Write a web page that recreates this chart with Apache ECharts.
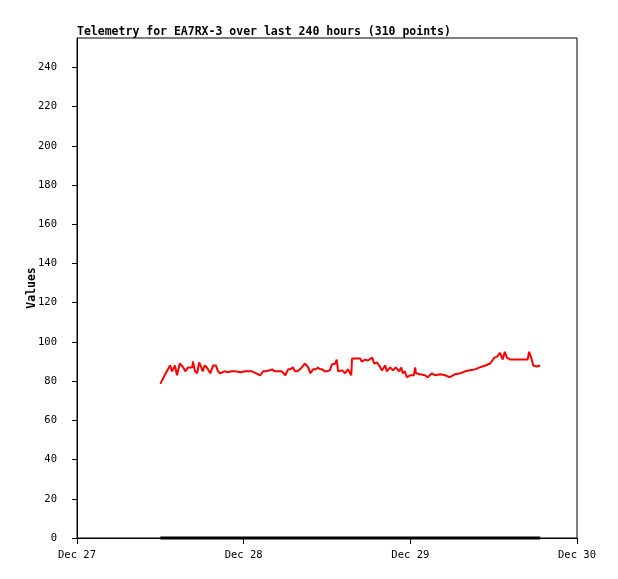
<!DOCTYPE html>
<html>
<head>
<meta charset="utf-8">
<script src="https://cdn.jsdelivr.net/npm/echarts@6/dist/echarts.min.js"></script>
<style>
  html, body { margin: 0; padding: 0; background: #fff; }
  #chart { width: 618px; height: 579px; }
</style>
</head>
<body>
<div id="chart"></div>
<script>
// hours since Dec 27 00:00
let hours = [
  12.0, 12.7, 13.4, 13.7, 14.1, 14.4, 14.8, 15.3, 15.6, 16.0, 16.6, 16.7, 17.0, 17.3, 17.6, 17.9,
  18.1, 18.4, 18.7, 19.2, 19.6, 20.0, 20.3, 20.6, 21.2, 21.7, 22.3, 22.8, 23.5, 24.2, 24.8, 25.2,
  25.8, 26.4, 26.8, 27.1, 27.8, 28.1, 28.5, 28.9, 29.5, 30.0, 30.4, 30.7, 31.1, 31.4, 31.7, 32.1,
  32.5, 32.8, 33.3, 33.6, 34.0, 34.4, 34.7, 35.0, 35.3, 35.7, 36.0, 36.4, 36.7, 37.2, 37.4, 37.6,
  38.2, 38.6, 39.0, 39.5, 39.6, 40.2, 40.8, 41.0, 41.5, 41.9, 42.5, 42.8, 43.2, 43.6, 43.9, 44.4,
  44.6, 45.1, 45.5, 45.9, 46.4, 46.7, 46.9, 47.2, 47.5, 48.0, 48.5, 48.7, 48.8, 49.4, 50.1, 50.5,
  51.1, 51.6, 52.3, 53.0, 53.7, 54.4, 55.2, 55.9, 56.6, 57.3, 58.0, 58.8, 59.5, 60.1, 60.5, 60.9,
  61.3, 61.6, 61.9, 62.4, 63.1, 63.8, 64.5, 64.9, 65.1, 65.4, 65.7, 66.2, 66.7
]
let values = [
  78.6, 83.5, 88.0, 85.0, 88.0, 83.0, 89.0, 87.0, 85.0, 87.0, 87.0, 90.0, 85.0, 84.0, 89.5, 87.0,
  85.0, 88.0, 87.0, 84.0, 88.0, 88.0, 85.0, 84.0, 85.0, 84.5, 85.0, 85.0, 84.5, 85.0, 85.0, 85.0,
  84.0, 83.0, 85.0, 85.0, 85.5, 86.0, 85.0, 85.0, 85.0, 83.0, 86.0, 86.0, 87.0, 85.0, 85.0, 86.0,
  87.5, 89.0, 87.0, 84.0, 86.0, 86.0, 87.0, 86.0, 86.0, 85.0, 85.0, 85.5, 88.5, 89.0, 91.0, 85.0,
  85.5, 84.0, 86.0, 83.0, 91.5, 91.5, 91.5, 90.0, 91.0, 90.5, 92.0, 89.0, 89.5, 87.5, 85.5, 88.0,
  85.0, 87.0, 85.5, 87.0, 85.0, 87.0, 84.0, 85.0, 82.0, 83.0, 83.0, 87.0, 84.0, 83.5, 83.0, 82.0,
  84.0, 83.0, 83.5, 83.0, 82.0, 83.5, 84.0, 85.0, 85.5, 86.0, 87.0, 88.0, 89.0, 92.0, 92.5, 94.5,
  91.0, 95.0, 92.0, 91.0, 91.0, 91.0, 91.0, 91.0, 95.0, 92.0, 88.0, 87.5, 88.0
]
let baseline = [0, 0]
let baselineHours = [12.0, 66.7]
let yTicks = [0, 20, 40, 60, 80, 100, 120, 140, 160, 180, 200, 220, 240]
let dayTicks = [0, 24, 48, 72]
let dayLabels = ['Dec 27', 'Dec 28', 'Dec 29', 'Dec 30']

let lineData = hours.map((h, i) => [h, values[i]])
let zeroData = baselineHours.map((h, i) => [h, baseline[i]])

const font = 'DejaVu Sans Mono'

var myChart = echarts.init(document.getElementById('chart'))
var option = {
  animation: false,
  backgroundColor: '#fff',
  title: {
    text: 'Telemetry for EA7RX-3 over last 240 hours (310 points)',
    left: 72,
    top: 21,
    textStyle: { fontFamily: font, fontSize: 11.5, fontWeight: 'bold', color: '#000' },
  },
  grid: {
    left: 77, top: 38, width: 500, height: 500,
    show: true, borderColor: '#000', borderWidth: 1,
  },
  xAxis: {
    type: 'value',
    min: 0,
    max: 72,
    splitLine: { show: false },
    axisLine: { lineStyle: { color: '#000', width: 1 } },
    axisTick: { show: true, length: 6, lineStyle: { color: '#000' }, customValues: dayTicks },
    axisLabel: {
      customValues: dayTicks,
      margin: 12,
      fontFamily: font, fontSize: 10.5, color: '#000',
      formatter: function (v) {
        return dayLabels[dayTicks.indexOf(v)]
      },
    },
  },
  yAxis: {
    type: 'value',
    min: 0,
    max: 255,
    name: 'Values',
    nameLocation: 'middle',
    nameGap: 39,
    nameRotate: 90,
    nameMoveOverlap: false,
    nameTextStyle: { fontFamily: font, fontSize: 11.5, fontWeight: 'bold', color: '#000' },
    splitLine: { show: false },
    axisLine: { show: true, lineStyle: { color: '#000', width: 1 } },
    axisTick: { show: true, length: 5, lineStyle: { color: '#000' }, customValues: yTicks },
    axisLabel: { customValues: yTicks, margin: 20, fontFamily: font, fontSize: 10.5, color: '#000' },
  },
  series: [
    {
      type: 'line',
      data: zeroData,
      showSymbol: false,
      clip: false,
      lineStyle: { color: '#000', width: 3 },
      z: 3,
    },
    {
      type: 'line',
      data: lineData,
      showSymbol: false,
      lineStyle: { color: '#ff0000', width: 2 },
      z: 4,
    },
  ],
}
myChart.setOption(option)
</script>
</body>
</html>
